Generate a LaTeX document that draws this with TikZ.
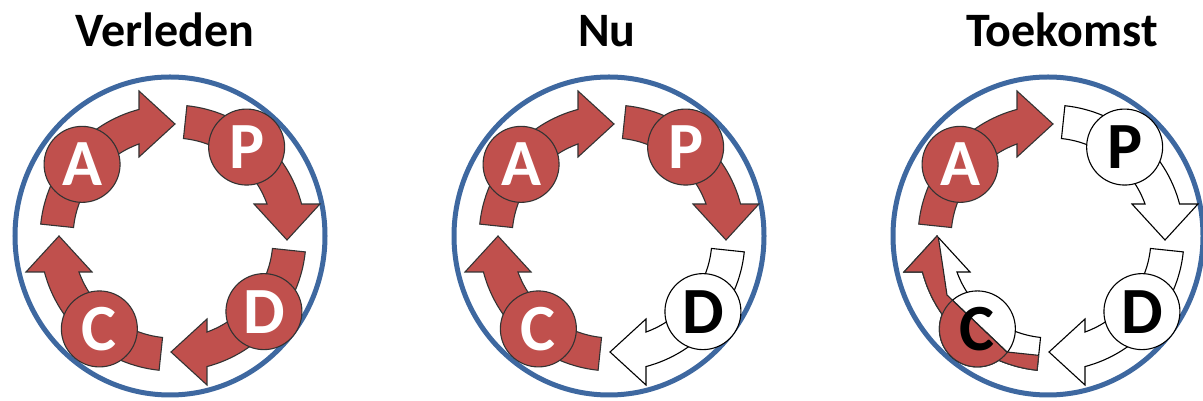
\documentclass[tikz,border=0pt]{standalone}
\usepackage{fontspec}
\setmainfont{Carlito}
\usetikzlibrary{calc}
\definecolor{pdcared}{RGB}{192,80,77}
\definecolor{ringblue}{RGB}{62,104,160}
\tikzset{
  ring/.style={draw=ringblue, line width=5pt},
  arrred/.style={fill=pdcared, draw=black!80, line width=1.1pt},
  arrwhite/.style={fill=white, draw=black, line width=1.1pt},
  badgebase/.style={circle, minimum size=76pt, inner sep=0pt, line width=1.1pt,
    font=\fontsize{66}{66}\selectfont\bfseries},
  badger/.style={badgebase, fill=pdcared, draw=black!80, text=white},
  badgew/.style={badgebase, fill=white, draw=black, text=black},
  lettb/.style={inner sep=0pt, text=black, font=\fontsize{66}{66}\selectfont\bfseries},
  cutline/.style={draw=black!85, line width=1.1pt},
  title/.style={anchor=base, inner sep=0pt, font=\fontsize{48}{58}\selectfont\bfseries}
}
\newcommand{\arrowpath}{(174:133) arc[start angle=174,end angle=104.8,radius=133] -- (-34,147) -- (2,114) -- (-34,81) -- (109.9:100) arc[start angle=109.9,end angle=174,radius=100] -- cycle}
\begin{document}
\begin{tikzpicture}[x=1pt,y=1pt]
\useasboundingbox (0,0) rectangle (1203,401);

% titles
\node[title] (t1) at (165,354) {Verleden};
\node[title] (t2) at (607,354) {Nu};
\node[title] (t3) at (1062,354) {Toekomst};

% ===== panel 1 =====
\draw[ring] (170,165) ellipse [x radius=155, y radius=159];
\path[arrred, shift={(173,163)}, rotate=0] \arrowpath;
\path[arrred, shift={(173,163)}, rotate=-90] \arrowpath;
\path[arrred, shift={(173,163)}, rotate=-180] \arrowpath;
\path[arrred, shift={(173,163)}, rotate=-270] \arrowpath;
\node[badger] (p1A) at ($(173,163)+(141:117)$) {A};
\node[badger] (p1P) at ($(173,163)+(51:117)$) {P};
\node[badger] (p1D) at ($(173,163)+(-39:117)$) {D};
\node[badger] (p1C) at ($(173,163)+(-129:117)$) {C};

% ===== panel 2 =====
\draw[ring] (609,165) ellipse [x radius=155, y radius=159];
\path[arrred, shift={(612,163)}, rotate=0] \arrowpath;
\path[arrred, shift={(612,163)}, rotate=-90] \arrowpath;
\path[arrwhite, shift={(612,163)}, rotate=-180] \arrowpath;
\path[arrred, shift={(612,163)}, rotate=-270] \arrowpath;
\node[badger] (p2A) at ($(612,163)+(141:117)$) {A};
\node[badger] (p2P) at ($(612,163)+(51:117)$) {P};
\node[badgew] (p2D) at ($(612,163)+(-39:117)$) {D};
\node[badger] (p2C) at ($(612,163)+(-129:117)$) {C};

% ===== panel 3 =====
\draw[ring] (1048,165) ellipse [x radius=155, y radius=159];
\path[arrred, shift={(1051,163)}, rotate=0] \arrowpath;
\path[arrwhite, shift={(1051,163)}, rotate=-90] \arrowpath;
\path[arrwhite, shift={(1051,163)}, rotate=-180] \arrowpath;
\path[arrwhite, shift={(1051,163)}, rotate=-270] \arrowpath;
\node[badger] (p3A) at ($(1051,163)+(141:117)$) {A};
\node[badgew] (p3P) at ($(1051,163)+(51:117)$) {P};
\node[badgew] (p3D) at ($(1051,163)+(-39:117)$) {D};
\node[badgew] (p3C) at ($(1051,163)+(-129:117)$) {};
% red outer half of the C step
\begin{scope}
  \clip (860,201) -- (930,201) -- (938,166) -- (943,133) -- (947,106) -- (1007,49) -- (1045,45) -- (1060,-19) -- (860,-19) -- cycle;
  \path[arrred, shift={(1051,163)}, rotate=-270] \arrowpath;
  \path[arrred] (p3C.center) circle [radius=38];
\end{scope}
\begin{scope}
  \clip[shift={(1051,163)}, rotate=-270] \arrowpath;
  \draw[cutline] (938,166) -- (943,133) -- (947,106) -- (1007,49) -- (1045,45);
\end{scope}
\begin{scope}
  \clip (p3C.center) circle [radius=38];
  \draw[cutline] (938,166) -- (943,133) -- (947,106) -- (1007,49) -- (1045,45);
\end{scope}
\node[lettb] (p3Cl) at (p3C.center) {C};
\end{tikzpicture}
\end{document}
